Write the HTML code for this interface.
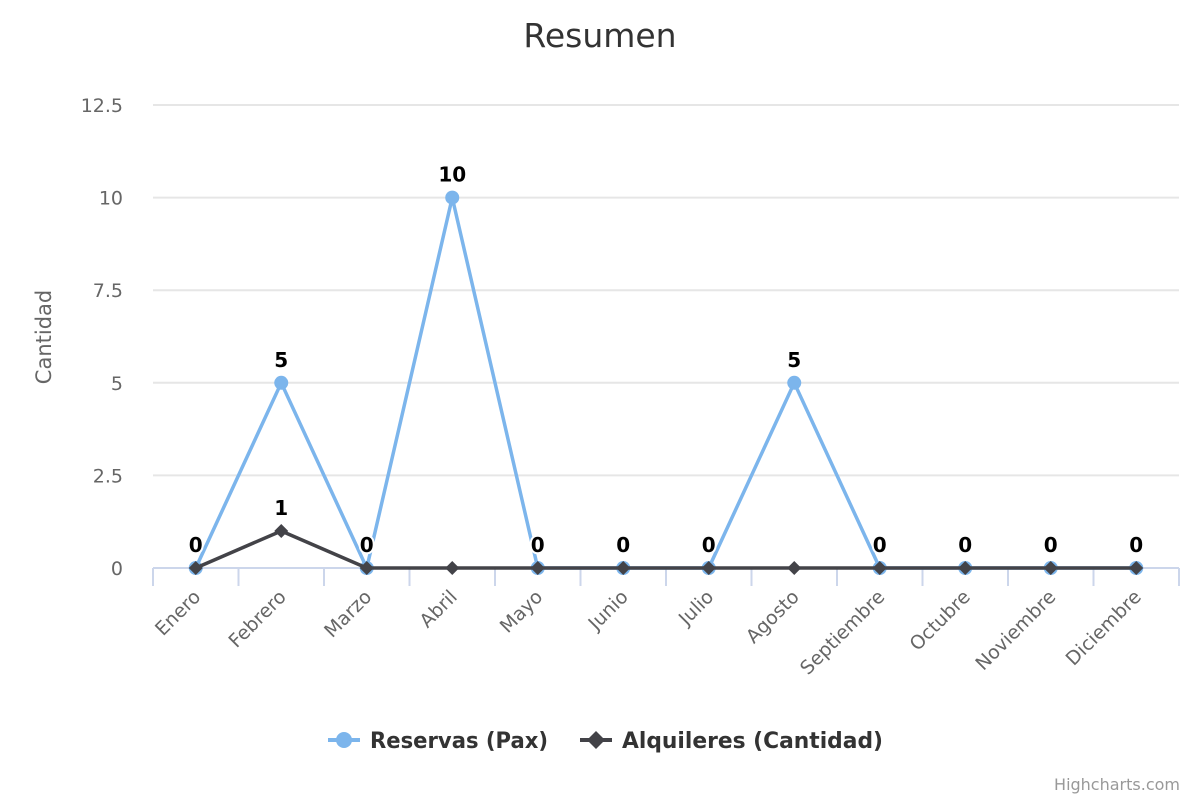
<!DOCTYPE html>
<html><head><meta charset="utf-8"><style>
html,body{margin:0;padding:0;background:#fff;}
svg{display:block;font-family:"DejaVu Sans","Liberation Sans",sans-serif;}
</style></head><body>
<svg id="chart" width="1200" height="800">
<text x="600" y="47" text-anchor="middle" font-size="33" fill="#333">Resumen</text>
<text transform="translate(51,337) rotate(-90)" text-anchor="middle" font-size="21" fill="#666">Cantidad</text>
<g id="grid"></g><g id="xaxis"></g><g id="series"></g>
<g>
<g>
<line x1="328" y1="740" x2="360" y2="740" stroke="#7cb5ec" stroke-width="4"/>
<circle cx="344" cy="740" r="8" fill="#7cb5ec"/>
<text x="370" y="748" font-size="22" font-weight="bold" fill="#333" textLength="178" lengthAdjust="spacingAndGlyphs">Reservas (Pax)</text></g>
<g>
<line x1="580" y1="740" x2="612" y2="740" stroke="#434348" stroke-width="4"/>
<path d="M596 731 L605 740 L596 749 L587 740 Z" fill="#434348"/>
<text x="622" y="748" font-size="22" font-weight="bold" fill="#333" textLength="261" lengthAdjust="spacingAndGlyphs">Alquileres (Cantidad)</text></g>
</g>
<text x="1180" y="790" text-anchor="end" font-size="16" fill="#999">Highcharts.com</text>
</svg>
<script>
const categories=["Enero","Febrero","Marzo","Abril","Mayo","Junio","Julio","Agosto","Septiembre","Octubre","Noviembre","Diciembre"];
const reservas=[0,5,0,10,0,0,0,5,0,0,0,0];
const alquileres=[0,1,0,0,0,0,0,0,0,0,0,0];
const yTicks=[0,2.5,5,7.5,10,12.5];
const NS="http://www.w3.org/2000/svg";
const L=153,R=1179,T=105,B=568,yMax=12.5;
const cw=(R-L)/categories.length;
const xs=i=>L+cw*(i+0.5);
const ys=v=>B-(v/yMax)*(B-T);
function mk(tag,attrs,parent,text){const e=document.createElementNS(NS,tag);for(const k in attrs)e.setAttribute(k,attrs[k]);if(text!==undefined)e.textContent=text;parent.appendChild(e);return e;}
const grid=document.getElementById('grid');
yTicks.forEach(t=>{
 const g=mk('line',{x1:L,x2:R,y1:ys(t),y2:ys(t),stroke:t===0?'#ccd6eb':'#e6e6e6','stroke-width':2},grid);
 
 
 const lb=mk('text',{x:123,y:ys(t)+7,'text-anchor':'end','font-size':19,fill:'#666'},grid,String(t));
 
 
});
const xa=document.getElementById('xaxis');
for(let i=0;i<=categories.length;i++){
 const tk=mk('line',{x1:L+cw*i,x2:L+cw*i,y1:B,y2:B+18,stroke:'#ccd6eb','stroke-width':2},xa);
 
 
}
categories.forEach((c,i)=>{
 const x=xs(i)+6,y=B+30;
 const t=mk('text',{x:x,y:y,'text-anchor':'end','font-size':19,fill:'#666',transform:`rotate(-45 ${x} ${y})`},xa,c);
 
 
});
const sg=document.getElementById('series');
function drawSeries(data,color,marker,name,w){
 const g=mk('g',{},sg);
 
 
 const p=mk('polyline',{points:data.map((v,i)=>xs(i)+','+ys(v)).join(' '),fill:'none',stroke:color,'stroke-width':w,'stroke-linejoin':'round'},g);
 
 
 data.forEach((v,i)=>{
  const x=xs(i),y=ys(v);
  let m;
  if(marker==='circle') m=mk('circle',{cx:x,cy:y,r:7,fill:color},g);
  else m=mk('path',{d:`M${x} ${y-7} L${x+7} ${y} L${x} ${y+7} L${x-7} ${y} Z`,fill:color},g);
  
  
 });
}
drawSeries(reservas,'#7cb5ec','circle','reservas',3.5);
drawSeries(alquileres,'#434348','diamond','alquileres',3.5);
const lg=mk('g',{},sg);
reservas.forEach((v,i)=>{
 const t=mk('text',{x:xs(i),y:ys(v)-16,'text-anchor':'middle','font-size':20,'font-weight':'bold',fill:'#000',stroke:'#fff','stroke-width':4,'paint-order':'stroke'},lg,String(v));
 
 
});
alquileres.forEach((v,i)=>{
 if(v===0)return;
 const t=mk('text',{x:xs(i),y:ys(v)-16,'text-anchor':'middle','font-size':20,'font-weight':'bold',fill:'#000',stroke:'#fff','stroke-width':4,'paint-order':'stroke'},lg,String(v));
 
 
});
</script>
</body></html>
